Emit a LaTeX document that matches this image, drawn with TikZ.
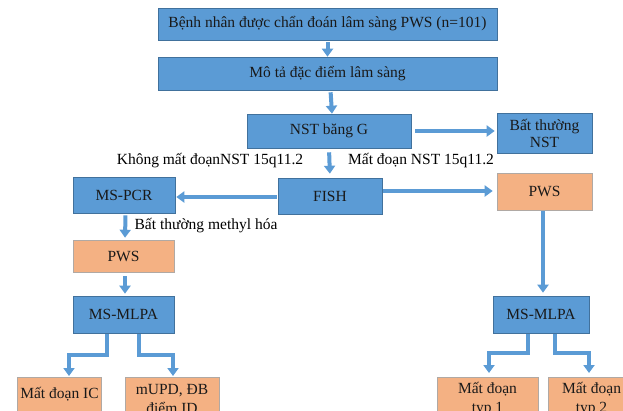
\documentclass[tikz,border=0pt]{standalone}
\usepackage{fontspec}
\setmainfont{Liberation Serif}
\usetikzlibrary{arrows.meta}
\definecolor{bblue}{HTML}{5B9BD5}
\definecolor{bblueline}{HTML}{41719C}
\definecolor{borange}{HTML}{F4B183}
\definecolor{borangeline}{HTML}{B0A9A4}
\definecolor{arr}{HTML}{5B9BD5}
\tikzset{
  bluebox/.style={draw=bblueline, line width=0.6pt, fill=bblue, inner sep=0pt, align=center, font=\fontsize{15.5}{17}\selectfont, text=black!90},
  orangebox/.style={draw=borangeline, line width=0.6pt, fill=borange, inner sep=0pt, align=center, font=\fontsize{15.5}{19}\selectfont, text=black!90},
  lbl/.style={font=\fontsize{15.5}{17}\selectfont, inner sep=0pt},
  blockarrow/.style={draw=arr, line width=4pt, -{Triangle[width=11pt,length=8pt]}}
}
\begin{document}
\begin{tikzpicture}[x=1pt,y=-1pt]
\useasboundingbox (0,0) rectangle (623,410);
\clip (0,0) rectangle (623,410);
% boxes
\node[bluebox, minimum width=339pt, minimum height=32pt] (b1) at (327.5,24) {Bệnh nhân được chẩn đoán lâm sàng PWS (n=101)};
\node[bluebox, minimum width=339pt, minimum height=33pt] (b2) at (327.5,73.5) {Mô tả đặc điểm lâm sàng};
\node[bluebox, minimum width=164pt, minimum height=34pt] (nst) at (329,131) {NST băng G};
\node[bluebox, minimum width=95pt, minimum height=40pt] (bt) at (544.5,133) {Bất thường\\NST};
\node[bluebox, minimum width=104pt, minimum height=36pt] (fish) at (330,196) {FISH};
\node[bluebox, minimum width=102pt, minimum height=36pt] (pcr) at (124,195) {MS-PCR};
\node[orangebox, minimum width=95pt, minimum height=37pt] (pwsr) at (544.5,191.5) {PWS};
\node[bluebox, minimum width=96pt, minimum height=37pt] (mlr) at (541,314.5) {MS-MLPA};
\node[orangebox, minimum width=101pt, minimum height=32pt] (pwsl) at (123.5,256) {PWS};
\node[bluebox, minimum width=101pt, minimum height=37pt] (mll) at (123.5,314.5) {MS-MLPA};
\node[orangebox, minimum width=84pt, minimum height=34pt, anchor=north] (ic) at (59.5,377) {Mất đoạn IC};
\node[orangebox, minimum width=94pt, minimum height=44pt, anchor=north] (upd) at (172,377) {mUPD, ĐB\\điểm ID};
\node[orangebox, minimum width=101pt, minimum height=44pt, anchor=north] (t1) at (487.5,377) {Mất đoạn\\typ 1};
\node[orangebox, minimum width=87pt, minimum height=44pt, anchor=north] (t2) at (591.5,377) {Mất đoạn\\typ 2};
% labels
\node[lbl] (l1) at (210,161) {Không mất đoạnNST 15q11.2};
\node[lbl] (l2) at (421,161) {Mất đoạn NST 15q11.2};
\node[lbl] (l3) at (206,226) {Bất thường methyl hóa};
% arrows
\draw[blockarrow, shorten <=2pt] (b1.south) -- (b2.north);
\draw[blockarrow, shorten <=2pt] ([xshift=3pt]b2.south) -- ([xshift=3pt]nst.north);
\draw[blockarrow, shorten <=4pt, shorten >=2pt] (nst.east) -- (nst.east -| bt.west);
\draw[blockarrow, shorten <=4pt, shorten >=4pt] (nst.south) -- (fish.north);
\draw[blockarrow, shorten <=1pt, shorten >=1pt] ([yshift=-1pt]fish.west) -- ([yshift=-1pt]fish.west -| pcr.east);
\draw[blockarrow, shorten <=1pt, shorten >=4pt] ([yshift=5pt]fish.east) -- ([yshift=5pt]fish.east -| pwsr.west);
\draw[blockarrow, shorten <=1pt, shorten >=3pt] ([xshift=-1.5pt]pwsr.south) -- ([xshift=-1.5pt]pwsr.south |- mlr.north);
\draw[blockarrow, shorten <=2pt, shorten >=2pt] ([xshift=1.5pt]pcr.south) -- ([xshift=1.5pt]pwsl.north);
\draw[blockarrow, shorten <=4pt, shorten >=2pt] ([xshift=1.5pt]pwsl.south) -- ([xshift=1.5pt]mll.north);
\draw[blockarrow, shorten <=1pt, shorten >=1pt] ([xshift=-16.5pt]mll.south) -- ++(0,22) -| ([xshift=9.5pt]ic.north);
\draw[blockarrow, shorten <=1pt, shorten >=1pt] ([xshift=15.5pt]mll.south) -- ++(0,22) -| ([xshift=1pt]upd.north);
\draw[blockarrow, shorten <=1pt, shorten >=4pt] ([xshift=-13.5pt]mlr.south) -- ++(0,20) -| ([xshift=1.5pt]t1.north);
\draw[blockarrow, shorten <=1pt, shorten >=4pt] ([xshift=14pt]mlr.south) -- ++(0,20) -| ([xshift=-2.5pt]t2.north);
\end{tikzpicture}
\end{document}
